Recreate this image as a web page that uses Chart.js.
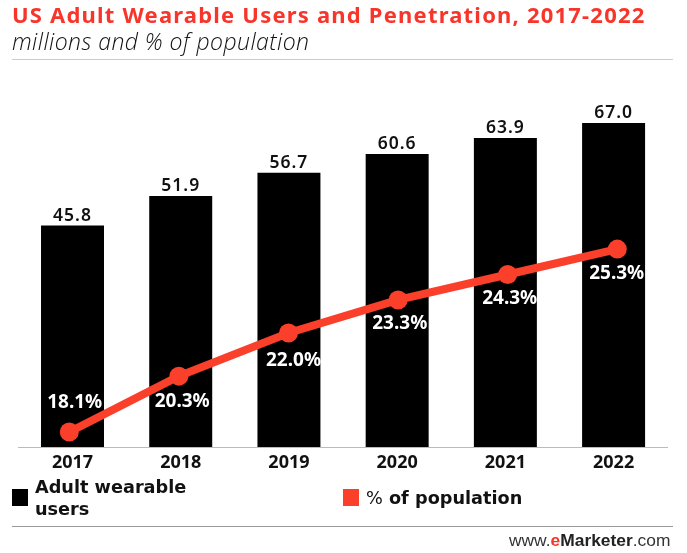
<!DOCTYPE html>
<html><head><meta charset="utf-8">
<script src="https://cdn.jsdelivr.net/npm/chart.js@4"></script>
<style>
html,body{margin:0;padding:0;background:#fff;width:687px;height:553px;overflow:hidden}
#wrap{position:relative;width:687px;height:553px}
canvas{position:absolute;left:0;top:0}
.t{position:absolute;white-space:nowrap;line-height:1}
#title{left:12px;top:-1px;line-height:30px;font-size:22px;letter-spacing:1.2px;font-weight:700;color:#f8352a;font-family:"Noto Sans",sans-serif}
#sub{left:12px;top:26px;line-height:30px;font-size:23px;letter-spacing:.45px;font-style:italic;font-weight:300;color:#111;font-family:"Open Sans",sans-serif}
.rule{position:absolute;left:12px;width:661px}
.sw{position:absolute;width:16px;height:17px;top:489px}
.leg{font-size:17.7px;font-weight:700;color:#111;line-height:22px;font-family:"DejaVu Sans",sans-serif}
#foot{left:509px;top:531px;line-height:18px;font-size:17.4px;color:#333;font-family:"Liberation Sans",sans-serif}
</style></head><body>
<div id="wrap">
<canvas id="c" width="687" height="553"></canvas>
<div class="t" id="title">US Adult Wearable Users and Penetration, 2017-2022</div>
<div class="t" id="sub">millions and % of population</div>
<div class="rule" style="top:59px;height:1px;background:#ccc"></div>
<div class="sw" style="left:12px;background:#000"></div>
<div class="t leg" style="left:35px;top:476px">Adult wearable<br>users</div>
<div class="sw" style="left:343px;background:#fa3f2a"></div>
<div class="t leg" style="left:366px;top:487px"><span style="font-weight:400">%</span> of population</div>
<div class="rule" style="top:526px;height:1px;background:#999"></div>
<div class="t" id="foot">www.<b style="color:#f8352a">e</b><b style="color:#222">Marketer</b>.com</div>
</div>
<script>
const categories=["2017","2018","2019","2020","2021","2022"];
const users=[45.8,51.9,56.7,60.6,63.9,67.0];
const population=[18.1,20.3,22.0,23.3,24.3,25.3];
const labelDx=[5.4,3.3,5,1.7,2,-0.6];
const labelDy=[-24,31.3,32.7,29,29,30];
const valueLabels={id:'valueLabels',afterDatasetsDraw(chart){
  const ctx=chart.ctx;ctx.save();ctx.textAlign='center';ctx.textBaseline='alphabetic';
  ctx.font='600 17.5px "Noto Sans",sans-serif';ctx.letterSpacing='1px';
  chart.getDatasetMeta(1).data.forEach((el,i)=>{ctx.fillStyle='#111';ctx.fillText(users[i].toFixed(1),el.x,el.y-5);});
  ctx.font='700 19px "Noto Sans",sans-serif';ctx.letterSpacing='0px';
  chart.getDatasetMeta(0).data.forEach((el,i)=>{ctx.fillStyle='#fff';
    ctx.fillText(population[i].toFixed(1)+'%',el.x+labelDx[i],el.y+labelDy[i]);});
  ctx.restore();
}};
new Chart(document.getElementById('c'),{
  type:'bar',
  data:{labels:categories,datasets:[
    {type:'line',label:'% of population',data:population.map((v,i)=>({x:i,y:v})),xAxisID:'x2',yAxisID:'y2',order:0,
     borderColor:'#fa3f2a',backgroundColor:'#fa3f2a',borderWidth:8,pointRadius:9.5,pointHoverRadius:9.5,
     pointBackgroundColor:'#fa3f2a',pointBorderWidth:0,tension:0},
    {type:'bar',label:'Adult wearable users',data:users,xAxisID:'x',yAxisID:'y',order:1,backgroundColor:'#000',grouped:false,categoryPercentage:1,barPercentage:0.582}
  ]},
  plugins:[valueLabels],
  options:{responsive:false,animation:false,devicePixelRatio:1,
    layout:{padding:{left:18.4,right:19.3,top:100,bottom:0}},
    plugins:{legend:{display:false},tooltip:{enabled:false},title:{display:false}},
    scales:{
      x:{afterFit(s){s.height=106;},grid:{display:false,drawTicks:false},border:{color:'#bbb',width:1},
         ticks:{color:'#111',font:{family:'"Noto Sans",sans-serif',size:18,weight:'700'},padding:5,maxRotation:0}},
      x2:{type:'linear',display:false,offset:false,min:-0.4644,max:5.46},
      y:{display:false,min:0,max:71.75},
      y2:{display:false,min:17.51,max:31.17}
    }}
});
</script>
</body></html>
